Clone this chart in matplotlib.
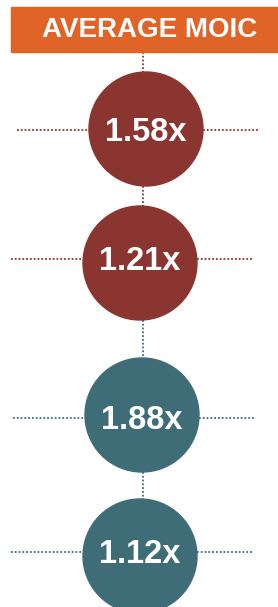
import matplotlib.pyplot as plt
from matplotlib.patches import Circle, Rectangle

title = "AVERAGE MOIC"
labels = ["1.58x", "1.21x", "1.88x", "1.12x"]
groups = ["red", "red", "teal", "teal"]

colors = {"red": "#8a3530", "teal": "#3f6d77"}
orange = "#e06328"

# layout in pixel units (y down)
centers = [(146, 129), (140, 263), (142, 415), (140, 556)]
line_y = [130, 259, 418, 552]
line_left = [17, 11, 13, 11]
line_right = [260, 254, 256, 254]
radius = 57

fig = plt.figure(figsize=(2.78, 6.07), dpi=100)
ax = fig.add_axes([0, 0, 1, 1])
ax.set_xlim(0, 278)
ax.set_ylim(607, 0)
ax.axis("off")

dot = dict(linestyle=(0, (1, 1.1)), linewidth=1.3)

# header
ax.add_patch(Rectangle((11, 7), 267, 45, color=orange, zorder=3))
ax.text(150, 37, title, color="white", fontsize=20, fontweight="bold",
        family="Liberation Sans", ha="center", va="baseline", zorder=4)

# vertical connectors
tops = [52] + [c[1] + radius for c in centers[:-1]]
for i, (cx, cy) in enumerate(centers):
    c = colors[groups[i]]
    ax.plot([143, 143], [tops[i], cy - radius], color=c, zorder=1, **dot)

for i, (cx, cy) in enumerate(centers):
    c = colors[groups[i]]
    ax.plot([line_left[i], cx - radius], [line_y[i]] * 2, color=c, zorder=1, **dot)
    ax.plot([cx + radius, line_right[i]], [line_y[i]] * 2, color=c, zorder=1, **dot)
    ax.add_patch(Circle((cx, cy), radius, color=c, zorder=2))
    ax.text(cx, line_y[i] + 11, labels[i], color="white", fontsize=23.5,
            fontweight="bold", family="Liberation Sans", ha="center",
            va="baseline", zorder=4)

fig.savefig("out.png", dpi=100)
